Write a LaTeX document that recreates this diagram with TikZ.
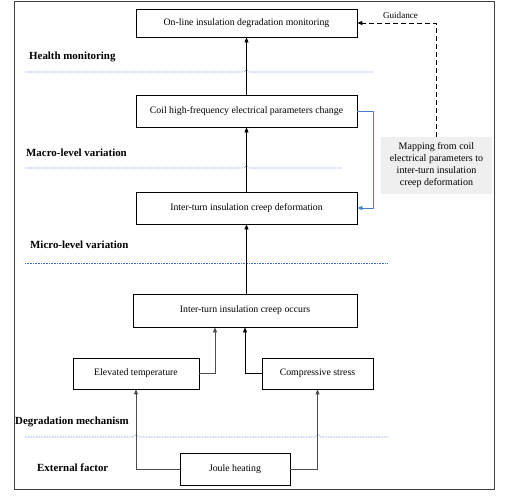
\documentclass[tikz,border=0pt]{standalone}
\usepackage{fontspec}
\setmainfont{Liberation Serif}
\usetikzlibrary{arrows.meta}
\definecolor{lnblue}{HTML}{3F6FC8}
\definecolor{arrblue}{HTML}{4A7EC8}
\definecolor{gfill}{HTML}{EFEFEF}
\begin{document}
\begin{tikzpicture}[x=1pt,y=-1pt,
  box/.style={draw, line width=0.8pt, inner sep=0pt, font=\fontsize{9.8}{12}\selectfont},
  lvl/.style={anchor=west, inner sep=0pt, font=\fontsize{10.9}{13}\selectfont\bfseries},
  arr/.style={line width=0.8pt, -{Triangle[length=5pt,width=4pt]}},
  garr/.style={line width=0.9pt, black!70, -{Triangle[length=5pt,width=4pt]}},
  barr/.style={line width=1pt, arrblue, -{Triangle[length=5pt,width=4pt]}},
  darr/.style={line width=1pt, dash pattern=on 5pt off 3pt, -{Triangle[length=5pt,width=4pt]}},
  sep/.style={lnblue, line width=0.6pt, densely dotted}]
\useasboundingbox (0,0) rectangle (507,498);
\draw[line width=0.8pt, black!75] (14,1) rectangle (494,489);
% boxes
\node[box, minimum width=221pt, minimum height=28pt] (b1) at (246.5,23) {On-line insulation degradation monitoring};
\node[box, minimum width=221pt, minimum height=32pt] (b2) at (246.5,111) {Coil high-frequency electrical parameters change};
\node[box, minimum width=221pt, minimum height=32pt] (b3) at (246.5,208) {Inter-turn insulation creep deformation};
\node[box, minimum width=224pt, minimum height=33pt] (b4) at (245,310.5) {Inter-turn insulation creep occurs};
\node[box, minimum width=126pt, minimum height=31pt] (b5) at (136,373.5) {Elevated temperature};
\node[box, minimum width=111pt, minimum height=31pt] (b6) at (317.5,373.5) {Compressive stress};
\node[box, minimum width=110pt, minimum height=32pt] (b7) at (235,469) {Joule heating};
\node[fill=gfill, minimum width=111pt, minimum height=57pt, inner sep=0pt, align=center,
  font=\fontsize{10}{12}\selectfont] (g) at (436.5,165.5) {Mapping from coil\\electrical parameters to\\inter-turn insulation\\creep deformation};
\node[inner sep=0pt, font=\fontsize{9.1}{11}\selectfont] (gl) at (400.5,15) {Guidance};
% level labels
\node[lvl] (l1) at (29,57) {Health monitoring};
\node[lvl] (l2) at (26,153) {Macro-level variation};
\node[lvl] (l3) at (30,245) {Micro-level variation};
\node[lvl] (l4) at (15,422) {Degradation mechanism};
\node[lvl] (l5) at (37,468) {External factor};
% separators
\draw[sep] (25,72) -- (244,72) -- (246.5,69.5) -- (249,72) -- (373,72);
\draw[sep] (25,168) -- (244,168) -- (246.5,165.5) -- (249,168) -- (342,168);
\draw[sep] (25,263) -- (388,263);
\draw[sep] (25,437) -- (133.5,437) -- (136,434.5) -- (138.5,437) -- (315.5,437) -- (318,434.5) -- (320.5,437) -- (389,437);
% connectors
\draw[arr] (b2.north) -- (b1.south);
\draw[arr] (b3.north) -- (b2.south);
\draw[arr] (b4.north -| b3.north) -- (b3.south);
\draw[garr] (b5.east) -| ([xshift=-30pt]b4.south);
\draw[arr] (b6.west) -| (b4.south);
\draw[garr] (b7.west) -| (b5.south);
\draw[garr] (b7.east) -| (b6.south);
\draw[barr] (b2.east) -- ++(16,0) |- (b3.east);
\draw[darr] (g.north) |- (b1.east);
\end{tikzpicture}
\end{document}
